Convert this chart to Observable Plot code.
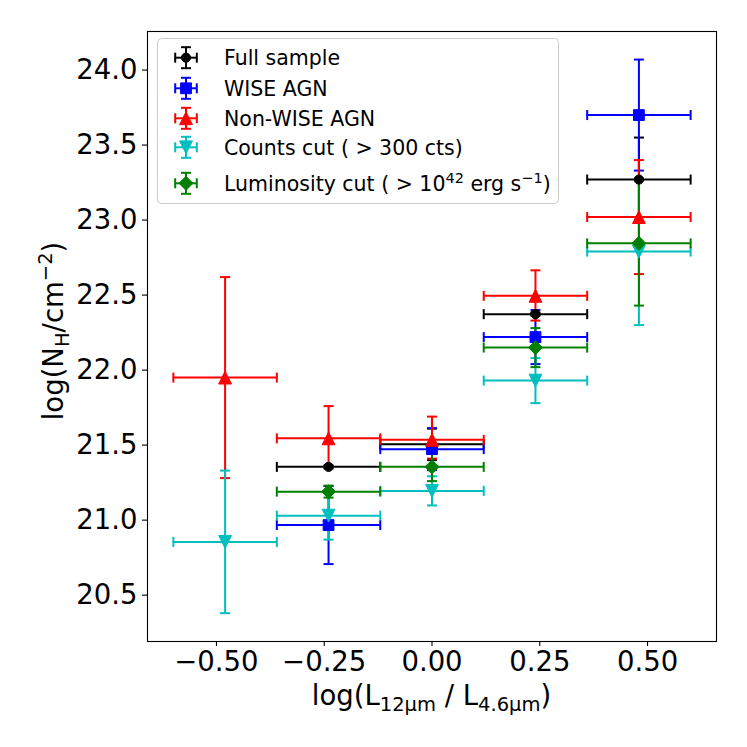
<!DOCTYPE html>
<html><head><meta charset="utf-8">
<script src="https://cdn.jsdelivr.net/npm/d3@7"></script>
<script src="https://cdn.jsdelivr.net/npm/@observablehq/plot@0.6"></script>
<style>
body{margin:0;background:#fff;}
#wrap{position:relative;width:747px;height:747px;}
</style></head><body><div id="wrap"></div>
<script>
// ---- data ----
const xHalfWidth = 0.12;               // bin half-width in log(L12/L4.6)
const xTicks = [-0.5, -0.25, 0, 0.25, 0.5];
const yTicks = [20.5, 21.0, 21.5, 22.0, 22.5, 23.0, 23.5, 24.0];

const fullX   = [-0.24, 0.00, 0.24, 0.48];
const fullY   = [21.355, 21.505, 22.373, 23.27];
const fullLo  = [0.01, 0.105, 0.01, 0.28];
const fullHi  = [0.01, 0.105, 0.01, 0.28];

const wiseX   = [-0.24, 0.00, 0.24, 0.48];
const wiseY   = [20.967, 21.473, 22.22, 23.70];
const wiseLo  = [0.26, 0.14, 0.18, 0.37];
const wiseHi  = [0.26, 0.14, 0.18, 0.37];

const nonX    = [-0.48, -0.24, 0.00, 0.24, 0.48];
const nonY    = [21.95, 21.545, 21.535, 22.495, 23.02];
const nonLo   = [0.67, 0.195, 0.125, 0.165, 0.38];
const nonHi   = [0.67, 0.215, 0.155, 0.17, 0.38];

const cntX    = [-0.48, -0.24, 0.00, 0.24, 0.48];
const cntY    = [20.855, 21.03, 21.195, 21.93, 22.79];
const cntLo   = [0.475, 0.16, 0.097, 0.15, 0.49];
const cntHi   = [0.475, 0.16, 0.097, 0.15, 0.49];

const lumX    = [-0.24, 0.00, 0.24, 0.48];
const lumY    = [21.19, 21.355, 22.15, 22.845];
const lumLo   = [0.04, 0.095, 0.13, 0.415];
const lumHi   = [0.04, 0.095, 0.13, 0.415];

const seriesLabels = ["Full sample", "WISE AGN", "Non-WISE AGN",
  "Counts cut ( > 300 cts)", "Luminosity cut ( > 10^{42} erg s^{\u22121})"];
const seriesColors = ["#000000", "#0000ff", "#ff0000", "#00bfbf", "#008000"];

// ---- build tables ----
function rows(X, Y, Lo, Hi) { return X.map((x, i) => ({x, y: Y[i], lo: Lo[i], hi: Hi[i]})); }
const series = [
  rows(fullX, fullY, fullLo, fullHi),
  rows(wiseX, wiseY, wiseLo, wiseHi),
  rows(nonX, nonY, nonLo, nonHi),
  rows(cntX, cntY, cntLo, cntHi),
  rows(lumX, lumY, lumLo, lumHi)
];

// ---- symbols ----
const R = s => Math.sqrt(s / Math.PI);
const symCircle = {draw(c, s){ const r = R(s); c.moveTo(r, 0); c.arc(0, 0, r, 0, 2*Math.PI); }};
const symSquare = {draw(c, s){ const r = R(s); c.moveTo(-r,-r); c.lineTo(r,-r); c.lineTo(r,r); c.lineTo(-r,r); c.closePath(); }};
const symTriUp  = {draw(c, s){ const r = R(s); c.moveTo(0,-r); c.lineTo(r,r); c.lineTo(-r,r); c.closePath(); }};
const symTriDn  = {draw(c, s){ const r = R(s); c.moveTo(0,r); c.lineTo(r,-r); c.lineTo(-r,-r); c.closePath(); }};
const symDiam   = {draw(c, s){ const r = R(s); c.moveTo(0,-r); c.lineTo(r,0); c.lineTo(0,r); c.lineTo(-r,0); c.closePath(); }};
const capV = {draw(c, s){ const r = R(s); c.moveTo(0,-r); c.lineTo(0,r); }};
const capH = {draw(c, s){ const r = R(s); c.moveTo(-r,0); c.lineTo(r,0); }};
const markerSyms = [symCircle, symSquare, symTriUp, symTriDn, symDiam];
const markerR = [4.6, 5.4, 6.4, 6.4, 7.0];
const capR = 5, lw = 2;

// ---- marks ----
const marks = [];
series.forEach((data, k) => {
  const col = seriesColors[k];
  marks.push(Plot.ruleY(data, {y: "y", x1: d => d.x - xHalfWidth, x2: d => d.x + xHalfWidth, stroke: col, strokeWidth: lw}));
  marks.push(Plot.ruleX(data, {x: "x", y1: d => d.y - d.lo, y2: d => d.y + d.hi, stroke: col, strokeWidth: lw}));
  marks.push(Plot.dot(data, {x: d => d.x - xHalfWidth, y: "y", symbol: capV, r: capR, stroke: col, fill: "none", strokeWidth: lw}));
  marks.push(Plot.dot(data, {x: d => d.x + xHalfWidth, y: "y", symbol: capV, r: capR, stroke: col, fill: "none", strokeWidth: lw}));
  marks.push(Plot.dot(data, {x: "x", y: d => d.y - d.lo, symbol: capH, r: capR, stroke: col, fill: "none", strokeWidth: lw}));
  marks.push(Plot.dot(data, {x: "x", y: d => d.y + d.hi, symbol: capH, r: capR, stroke: col, fill: "none", strokeWidth: lw}));
});
series.forEach((data, k) => {
  const col = seriesColors[k];
  marks.push(Plot.dot(data, {x: "x", y: "y", symbol: markerSyms[k], r: markerR[k], fill: col, stroke: col, strokeWidth: 1}));
});
marks.push(Plot.axisX({ticks: xTicks, tickFormat: d3.format(".2f"), tickSize: 5, tickPadding: 5, label: null, strokeWidth: 1.1}));
marks.push(Plot.axisY({ticks: yTicks, tickFormat: d3.format(".1f"), tickSize: 5, tickPadding: 5, label: null, strokeWidth: 1.1}));
marks.push(Plot.frame({stroke: "#000", strokeWidth: 1.1}));

const svg = Plot.plot({
  width: 747, height: 747,
  marginLeft: 147, marginRight: 31, marginTop: 31, marginBottom: 106,
  x: {domain: [-0.66, 0.66]},
  y: {domain: [20.191, 24.257]},
  style: {fontFamily: "DejaVu Sans", fontSize: "27.5px", color: "#000", background: "#fff", overflow: "visible"},
  marks
});
document.getElementById("wrap").appendChild(svg);

// ---- axis labels with sub/superscripts ----
const S = d3.select(svg);
const xl = S.append("text").attr("x", 431.5).attr("y", 705).attr("text-anchor", "middle")
  .attr("font-family", "DejaVu Sans").attr("font-size", 27.5).attr("fill", "#000");
xl.append("tspan").text("log(L");
xl.append("tspan").attr("font-size", 19.5).attr("dy", 6).text("12μm");
xl.append("tspan").attr("dy", -6).text(" / L");
xl.append("tspan").attr("font-size", 19.5).attr("dy", 6).text("4.6μm");
xl.append("tspan").attr("dy", -6).text(")");

const yl = S.append("text").attr("transform", "translate(63,331) rotate(-90)").attr("text-anchor", "middle")
  .attr("font-family", "DejaVu Sans").attr("font-size", 27.5).attr("fill", "#000");
yl.append("tspan").text("log(N");
yl.append("tspan").attr("font-size", 19.5).attr("dy", 6).text("H");
yl.append("tspan").attr("dy", -6).text("/cm");
yl.append("tspan").attr("font-size", 19.5).attr("dy", -11).text("\u22122");
yl.append("tspan").attr("dy", 11).text(")");

// ---- legend ----
const lg = S.append("g");
lg.append("rect").attr("x", 157.5).attr("y", 38.5).attr("width", 401).attr("height", 165).attr("rx", 4)
  .attr("fill", "#fff").attr("fill-opacity", 0.8).attr("stroke", "#cccccc").attr("stroke-width", 1);
const rowY = [57.7, 88.3, 118.3, 147.3, 183.3];
const iconX = 186, iconHalfW = 10.8, iconHalfH = 10.5;
seriesLabels.forEach((lab, k) => {
  const col = seriesColors[k], y = rowY[k];
  const g = lg.append("g").attr("stroke", col).attr("stroke-width", lw).attr("fill", "none");
  g.append("line").attr("x1", iconX - iconHalfW).attr("x2", iconX + iconHalfW).attr("y1", y).attr("y2", y);
  g.append("line").attr("x1", iconX).attr("x2", iconX).attr("y1", y - iconHalfH).attr("y2", y + iconHalfH);
  [iconX - iconHalfW, iconX + iconHalfW].forEach(cx =>
    g.append("line").attr("x1", cx).attr("x2", cx).attr("y1", y - capR).attr("y2", y + capR));
  [y - iconHalfH, y + iconHalfH].forEach(cy =>
    g.append("line").attr("x1", iconX - capR).attr("x2", iconX + capR).attr("y1", cy).attr("y2", cy));
  lg.append("path").attr("transform", `translate(${iconX},${y})`)
    .attr("d", d3.symbol(markerSyms[k], Math.PI * markerR[k] * markerR[k])())
    .attr("fill", col).attr("stroke", col).attr("stroke-width", 1);
  const t = lg.append("text").attr("x", 224).attr("y", y + 7.5).attr("text-anchor", "start")
    .attr("font-family", "DejaVu Sans").attr("font-size", 20.5).attr("fill", "#000");
  const parts = lab.split(/(\^\{[^}]*\})/).filter(p => p.length);
  let raised = false;
  parts.forEach(p => {
    if (p.startsWith("^{")) {
      t.append("tspan").attr("font-size", 14.5).attr("dy", -8).text(p.slice(2, -1));
      raised = true;
    } else {
      const ts = t.append("tspan").text(p);
      if (raised) { ts.attr("dy", 8); raised = false; }
    }
  });
});
</script></body></html>
